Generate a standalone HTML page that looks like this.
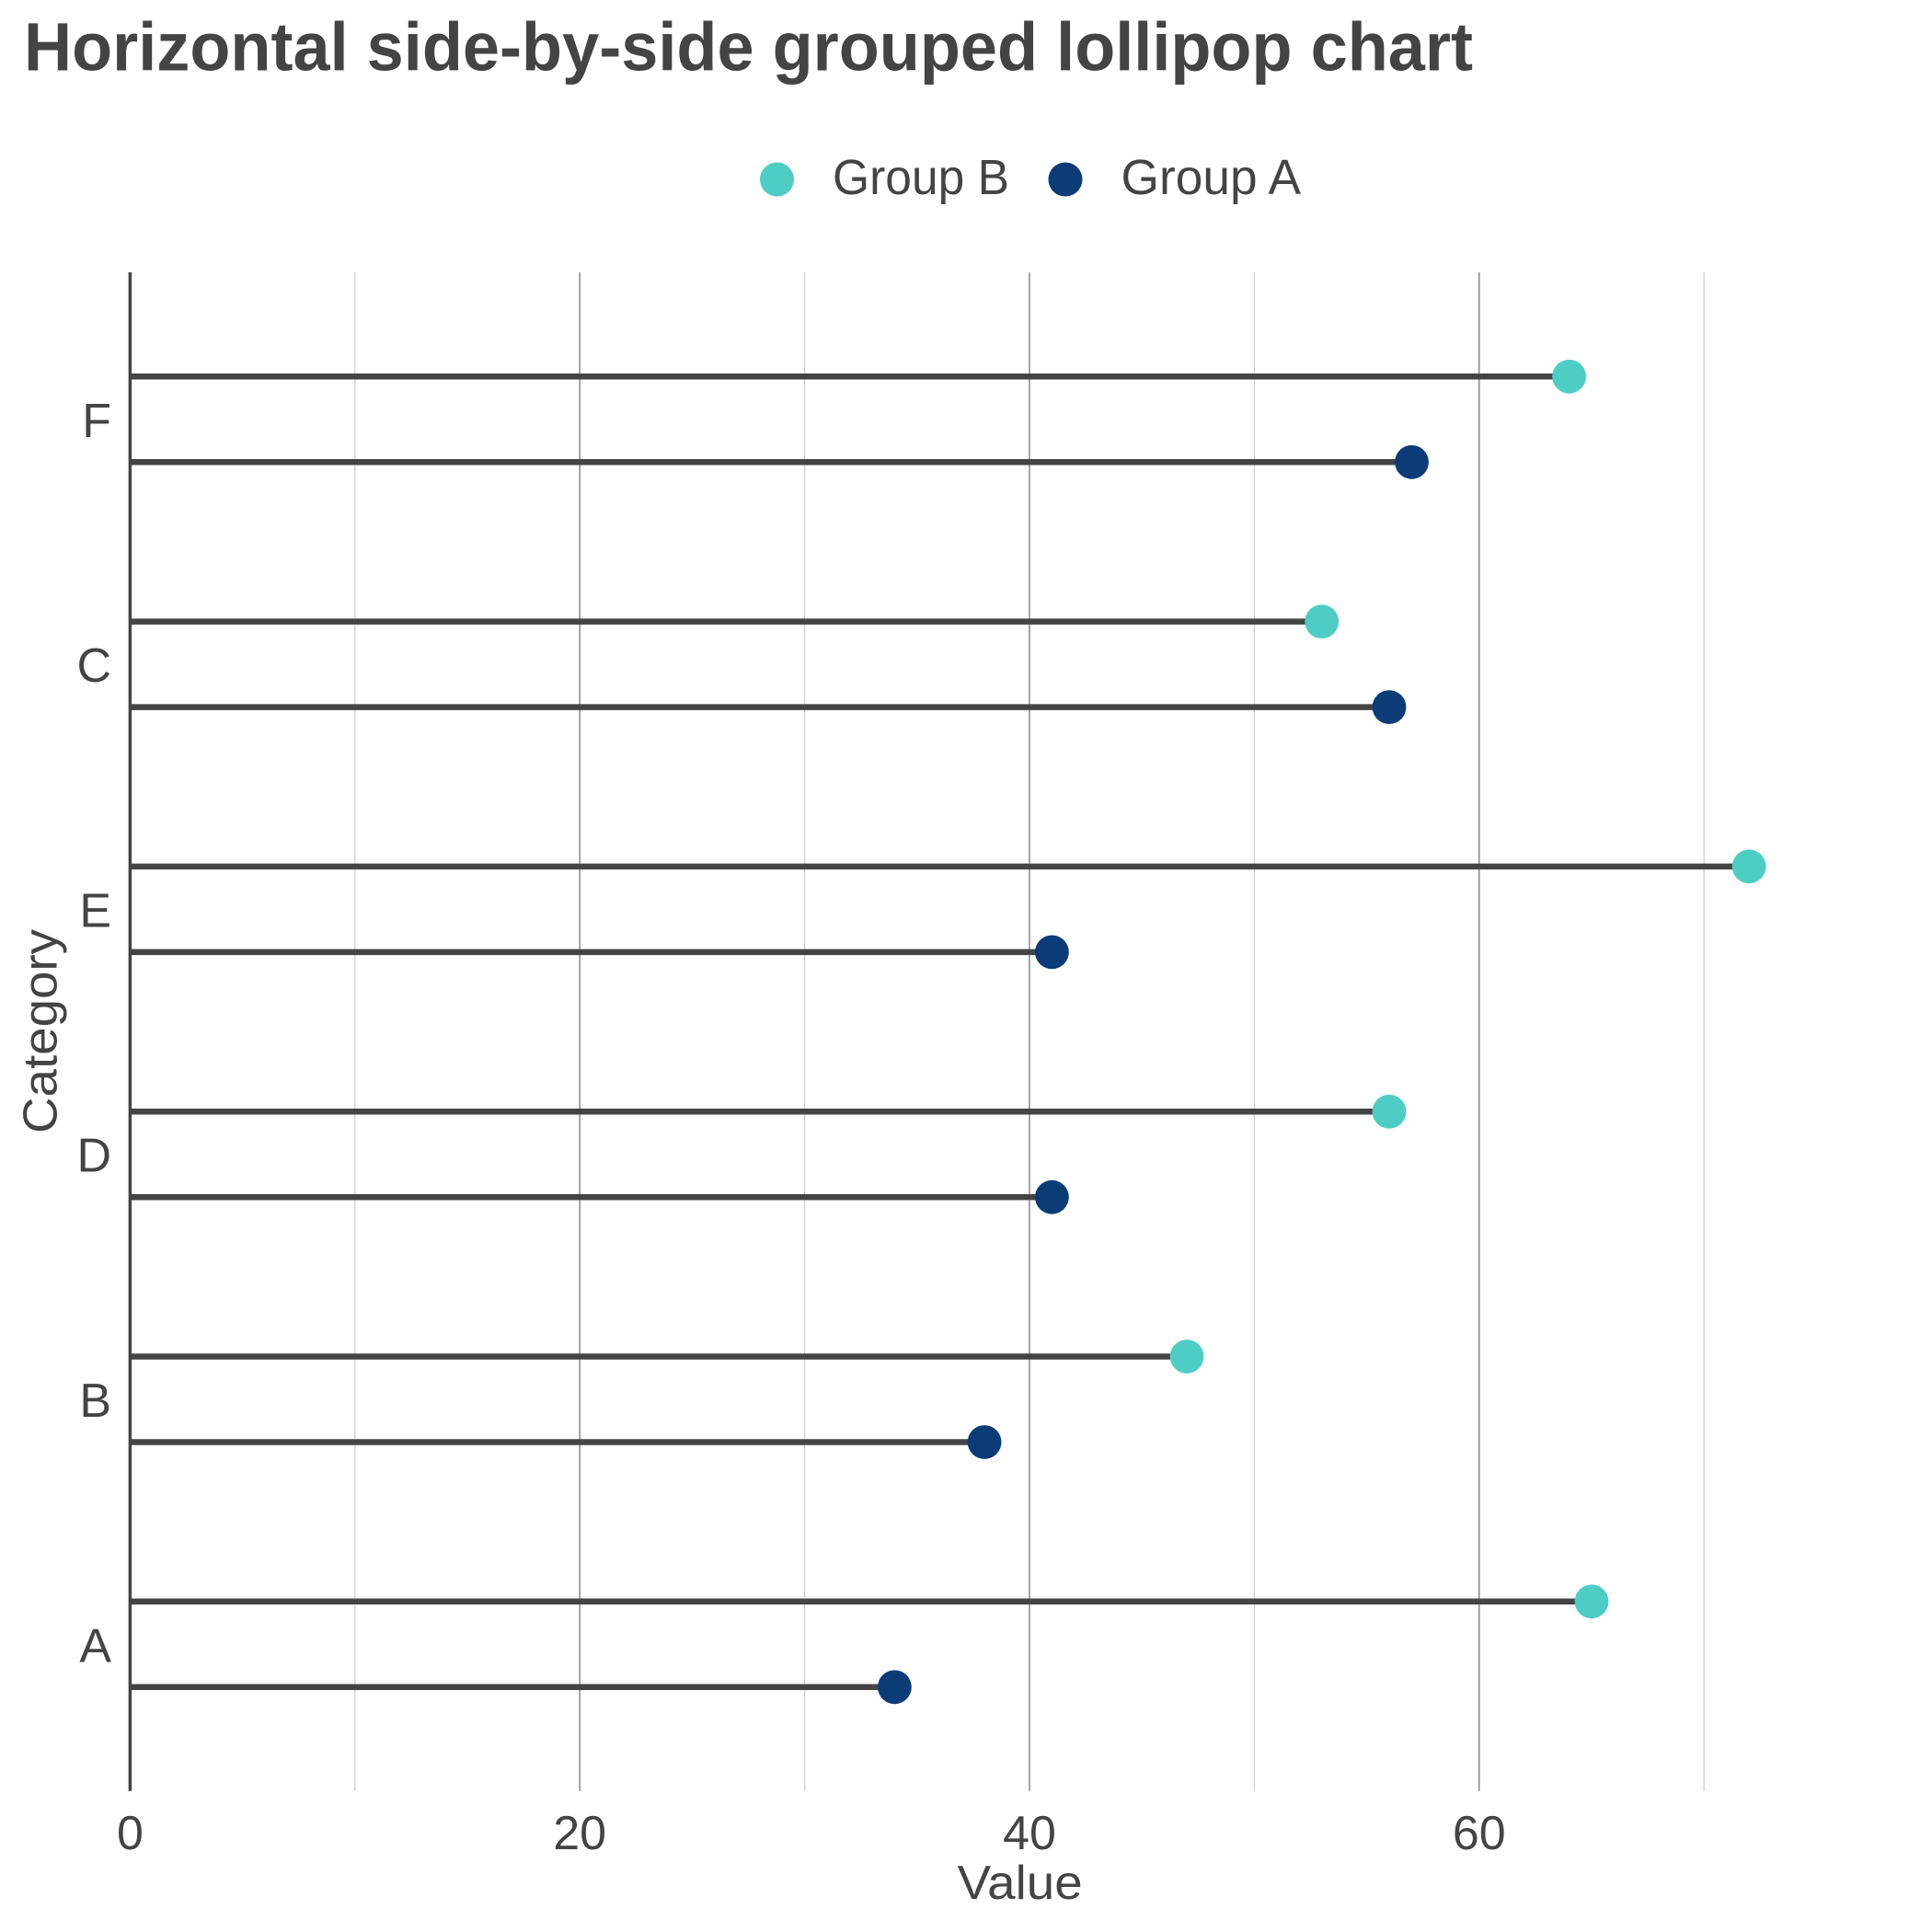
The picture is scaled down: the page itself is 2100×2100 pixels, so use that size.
<!DOCTYPE html>
<html>
<head>
<meta charset="utf-8">
<style>
  html, body { margin: 0; padding: 0; background: #ffffff; }
  svg { display: block; }
  text { font-family: "Liberation Sans", "DejaVu Sans", sans-serif; fill: #444444; }
</style>
</head>
<body>
<svg width="2100" height="2100" viewBox="0 0 2100 2100" xmlns="http://www.w3.org/2000/svg">
  <rect x="0" y="0" width="2100" height="2100" fill="#ffffff"/>

  <!-- Title -->
  <text x="26" y="76.5" font-size="74" font-weight="bold" textLength="1575" lengthAdjust="spacingAndGlyphs">Horizontal side-by-side grouped lollipop chart</text>

  <!-- Legend -->
  <circle cx="844.5" cy="195" r="18.5" fill="#4ECDC4"/>
  <text x="905" y="211" font-size="54" textLength="192" lengthAdjust="spacingAndGlyphs">Group B</text>
  <circle cx="1158" cy="195" r="18.5" fill="#0B3C78"/>
  <text x="1218.5" y="211" font-size="54" textLength="195.5" lengthAdjust="spacingAndGlyphs">Group A</text>

  <!-- Minor gridlines (10,30,50,70) -->
  <g stroke="#cccccc" stroke-width="1.2">
    <line x1="385.8" y1="296" x2="385.8" y2="1946.7"/>
    <line x1="874.6" y1="296" x2="874.6" y2="1946.7"/>
    <line x1="1363.4" y1="296" x2="1363.4" y2="1946.7"/>
    <line x1="1852.2" y1="296" x2="1852.2" y2="1946.7"/>
  </g>
  <!-- Major gridlines (20,40,60) -->
  <g stroke="#808080" stroke-width="1.4">
    <line x1="630.2" y1="296" x2="630.2" y2="1946.7"/>
    <line x1="1119.0" y1="296" x2="1119.0" y2="1946.7"/>
    <line x1="1607.8" y1="296" x2="1607.8" y2="1946.7"/>
  </g>

  <!-- Y axis line -->
  <line x1="141.4" y1="296" x2="141.4" y2="1946.7" stroke="#444444" stroke-width="3.5"/>

  <!-- Stems -->
  <g stroke="#444444" stroke-width="6.5">
    <line x1="141.4" y1="409.3" x2="1705.6" y2="409.3"/>
    <line x1="141.4" y1="502.3" x2="1534.5" y2="502.3"/>
    <line x1="141.4" y1="675.6" x2="1436.7" y2="675.6"/>
    <line x1="141.4" y1="768.6" x2="1510.0" y2="768.6"/>
    <line x1="141.4" y1="941.9" x2="1901.1" y2="941.9"/>
    <line x1="141.4" y1="1034.9" x2="1143.4" y2="1034.9"/>
    <line x1="141.4" y1="1208.2" x2="1510.0" y2="1208.2"/>
    <line x1="141.4" y1="1301.2" x2="1143.4" y2="1301.2"/>
    <line x1="141.4" y1="1474.5" x2="1290.1" y2="1474.5"/>
    <line x1="141.4" y1="1567.5" x2="1070.1" y2="1567.5"/>
    <line x1="141.4" y1="1740.8" x2="1730.0" y2="1740.8"/>
    <line x1="141.4" y1="1833.8" x2="972.4" y2="1833.8"/>
  </g>

  <!-- Group B dots -->
  <g fill="#4ECDC4">
    <circle cx="1705.6" cy="409.3" r="18.4"/>
    <circle cx="1436.7" cy="675.6" r="18.4"/>
    <circle cx="1901.1" cy="941.9" r="18.4"/>
    <circle cx="1510.0" cy="1208.2" r="18.4"/>
    <circle cx="1290.1" cy="1474.5" r="18.4"/>
    <circle cx="1730.0" cy="1740.8" r="18.4"/>
  </g>
  <!-- Group A dots -->
  <g fill="#0B3C78">
    <circle cx="1534.5" cy="502.3" r="18.4"/>
    <circle cx="1510.0" cy="768.6" r="18.4"/>
    <circle cx="1143.4" cy="1034.9" r="18.4"/>
    <circle cx="1143.4" cy="1301.2" r="18.4"/>
    <circle cx="1070.1" cy="1567.5" r="18.4"/>
    <circle cx="972.4" cy="1833.8" r="18.4"/>
  </g>

  <!-- Category labels -->
  <g font-size="52" text-anchor="end">
    <text x="121" y="474.8">F</text>
    <text x="121" y="741.1">C</text>
    <text x="121" y="1007.4">E</text>
    <text x="121" y="1273.7">D</text>
    <text x="121" y="1540.0">B</text>
    <text x="121" y="1806.3">A</text>
  </g>

  <!-- X tick labels -->
  <g font-size="52" text-anchor="middle">
    <text x="141.4" y="2010">0</text>
    <text x="630.2" y="2010">20</text>
    <text x="1119.0" y="2010">40</text>
    <text x="1607.8" y="2010">60</text>
  </g>

  <!-- Axis titles -->
  <text x="1040.7" y="2064" font-size="52" textLength="136" lengthAdjust="spacingAndGlyphs">Value</text>
  <text x="0" y="0" font-size="52" textLength="222" lengthAdjust="spacingAndGlyphs" transform="translate(61.7,1232) rotate(-90)">Category</text>
</svg>
</body>
</html>
